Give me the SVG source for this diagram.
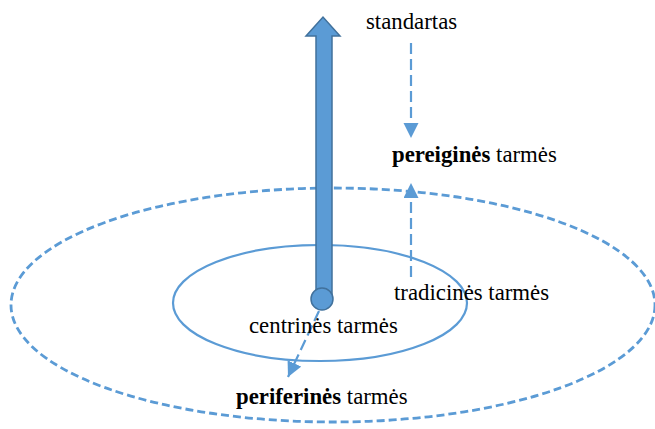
<svg xmlns="http://www.w3.org/2000/svg" width="655" height="429" viewBox="0 0 655 429">
<style>
text{font-family:"Liberation Serif","Times New Roman",serif;font-size:22.8px;fill:#000}
.b{font-weight:bold}
.dl{fill:none;stroke:#5B9BD5;stroke-width:2.2;stroke-dasharray:11 5}
</style>
<defs>
<marker id="ah" markerUnits="userSpaceOnUse" markerWidth="16" markerHeight="16" refX="15" refY="7.5" orient="auto">
<path d="M0,0 L15,7.5 L0,15 Z" fill="#5B9BD5"/>
</marker>
</defs>
<g id="outer-ellipse">
<ellipse cx="333" cy="305" rx="322" ry="117" fill="none" stroke="#5B9BD5" stroke-width="2.8" stroke-dasharray="8 4"/>
</g>
<g id="inner-ellipse">
<ellipse cx="320" cy="303" rx="147" ry="58" fill="none" stroke="#5B9BD5" stroke-width="2.2"/>
</g>
<g id="connectors">
<line class="dl" x1="411" y1="43" x2="411" y2="138" marker-end="url(#ah)"/>
<line class="dl" x1="411" y1="277" x2="411" y2="183" marker-end="url(#ah)"/>
<line class="dl" x1="319" y1="311" x2="288" y2="377" marker-end="url(#ah)"/>
</g>
<g id="big-arrow">
<path d="M316,298 L316,36 L306,36 L323,17 L340,36 L332,36 L332,298 Z" fill="#5B9BD5" stroke="#41719C" stroke-width="1.5" stroke-linejoin="miter"/>
<circle cx="322" cy="299" r="11" fill="#5B9BD5" stroke="#41719C" stroke-width="1.5"/>
</g>
<g id="standartas"><text x="366" y="29">standartas</text></g>
<g id="pereigines"><text x="392" y="162"><tspan class="b">pereiginės</tspan> tarmės</text></g>
<g id="tradicines"><text x="394" y="300">tradicinės tarmės</text></g>
<g id="centrines"><text x="249" y="333">centrinės tarmės</text></g>
<g id="periferines"><text x="236" y="404"><tspan class="b">periferinės</tspan> tarmės</text></g>
</svg>
